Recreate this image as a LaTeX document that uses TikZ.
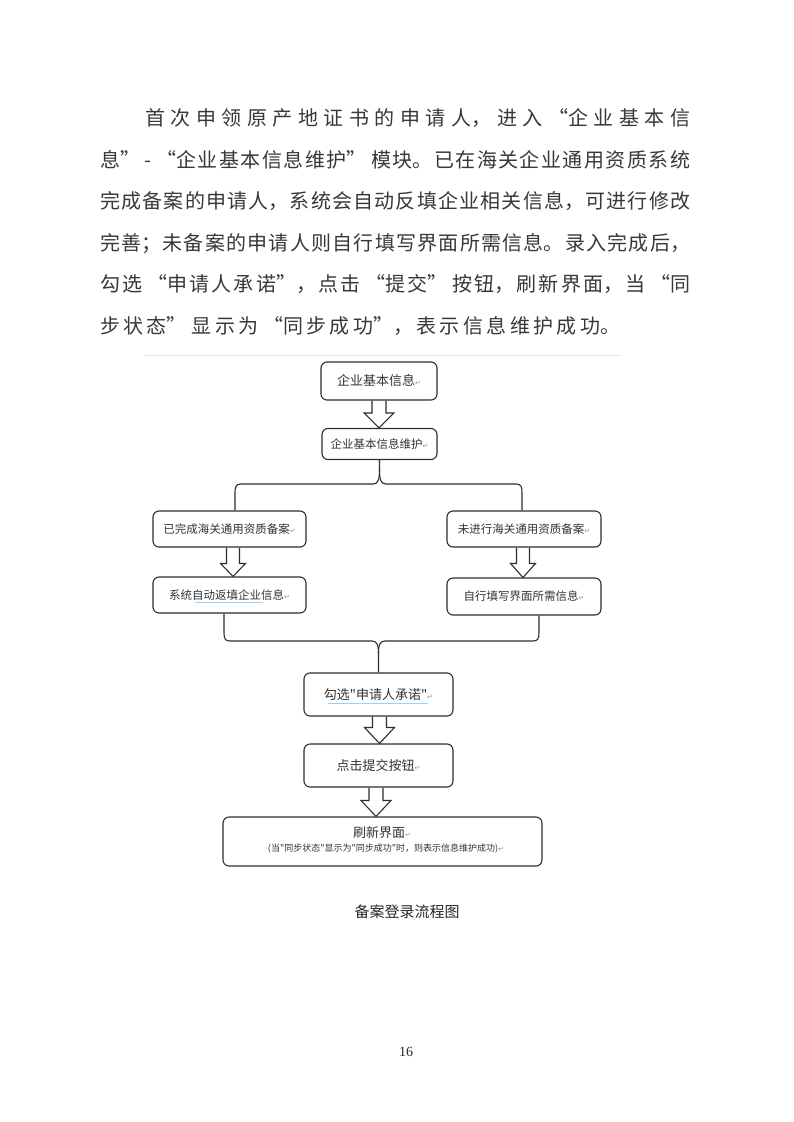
\documentclass[tikz,border=0pt]{standalone}
\usepackage{fontspec}
\setmainfont{Liberation Serif}
\newfontfamily\cjk{Noto Sans CJK SC}
\newfontfamily\dejavu{DejaVu Sans}
\usetikzlibrary{calc}
\newcommand\parmark{{\dejavu\fontsize{7}{7}\selectfont\textcolor{black!40}{↵}}}
\newcommand\bodyline[4]{% x, y(center), width, text
  \node[anchor=base west, inner sep=0pt, text=black!78] at (#1,#2+7.5) {\parbox[b]{#3pt}{\cjk\fontsize{20}{20}\selectfont
    \XeTeXlinebreaklocale "zh"\XeTeXlinebreakskip=0pt plus 30pt\parfillskip=0pt\noindent #4}};}
\newcommand\blockarrow[6]{% from, to, dx, shaft half, head half, head length
  \draw[arrowshape] let \p1=([xshift=#3]#1.south), \p2=([xshift=#3]#2.north) in
    (\x1-#4,\y1) -- (\x1-#4,\y2+#6) -- (\x1-#5,\y2+#6) -- (\x1,\y2) -- (\x1+#5,\y2+#6) -- (\x1+#4,\y2+#6) -- (\x1+#4,\y1);}
\begin{document}
\begin{tikzpicture}[x=1pt,y=-1pt,
  flowbox/.style={draw=black!82, line width=1.1pt, rounded corners=6pt, inner sep=0pt, align=center,
    font=\cjk\fontsize{11.5}{13}\selectfont, text=black!80},
  bigtext/.style={font=\cjk\fontsize{13}{15}\selectfont},
  arrowshape/.style={draw=black!82, line width=1.1pt, line join=miter},
  bracel/.style={draw=black!82, line width=1.1pt},
  spell/.style={draw=blue!45!cyan!40, line width=0.8pt}]
\useasboundingbox (0,0) rectangle (793,1122);
\fill[white] (0,0) rectangle (793,1122);

% body paragraph
\bodyline{145}{118}{545}{首次申领原产地证书的申请人，进入“企业基本信}
\bodyline{100}{159.6}{590}{息” - “企业基本信息维护” 模块。已在海关企业通用资质系统}
\bodyline{100}{201.2}{590}{完成备案的申请人，系统会自动反填企业相关信息，可进行修改}
\bodyline{100}{242.8}{590}{完善；未备案的申请人则自行填写界面所需信息。录入完成后，}
\bodyline{100}{284.4}{590}{勾选 “申请人承诺”，点击 “提交” 按钮，刷新界面，当 “同}
\bodyline{100}{326}{520}{步状态” 显示为 “同步成功”，表示信息维护成功。}

% faint rule at top of figure
\draw[black!10, line width=1pt] (145,355) -- (620,355);

% boxes
\node[flowbox, bigtext, minimum width=116pt, minimum height=38pt] (b1) at (379,381) {企业基本信息\parmark};
\node[flowbox, minimum width=115pt, minimum height=31pt] (b2) at (379.5,444) {企业基本信息维护\parmark};
\node[flowbox, minimum width=153pt, minimum height=36pt] (L1) at (229.5,529) {已完成海关通用资质备案\parmark};
\node[flowbox, minimum width=154pt, minimum height=36pt] (R1) at (524,529) {未进行海关通用资质备案\parmark};
\node[flowbox, minimum width=153pt, minimum height=36pt] (L2) at (229.5,595) {系统自动返填企业信息\parmark};
\node[flowbox, minimum width=154pt, minimum height=37pt] (R2) at (524,596.5) {自行填写界面所需信息\parmark};
\node[flowbox, bigtext, minimum width=149pt, minimum height=43pt] (C1) at (378.5,694.5) {勾选"申请人承诺"\parmark};
\node[flowbox, bigtext, minimum width=149pt, minimum height=43pt] (C2) at (378.5,765.5) {点击提交按钮\parmark};
\node[flowbox, minimum width=319pt, minimum height=49pt] (C3) at (382.5,841.5) {};
\node[inner sep=0pt, font=\cjk\fontsize{13}{15}\selectfont, text=black!80] (C3a) at (382,833) {刷新界面\parmark};
\node[inner sep=0pt, font=\cjk\fontsize{9}{11}\selectfont, text=black!80] (C3b) at (386,849) {(当"同步状态"显示为"同步成功"时，则表示信息维护成功)\parmark};

% spell-check underlines
\draw[spell] (195,602.5) -- (263,602.5);
\draw[spell] (328,703.5) -- (428,703.5);

% block arrows
\blockarrow{b1}{b2}{0pt}{7pt}{15pt}{15pt}
\blockarrow{L1}{L2}{3.5pt}{6.5pt}{12.5pt}{13pt}
\blockarrow{R1}{R2}{-1pt}{6.5pt}{12.5pt}{14pt}
\blockarrow{C1}{C2}{1pt}{7pt}{15pt}{16pt}
\blockarrow{C2}{C3}{-2.5pt}{7pt}{15pt}{16pt}

% top brace
\coordinate (tt) at (379.5,469);
\draw[bracel] (b2.south) -- (tt)
  .. controls (379.5,480) and (378,484) .. (373,484) -- (241,484)
  .. controls (236.5,484) and (235,486) .. (235,492) -- ([xshift=5.5pt]L1.north);
\draw[bracel] (tt)
  .. controls (379.5,480) and (381,484) .. (386,484) -- (516,484)
  .. controls (520.5,484) and (522,486) .. (522,492) -- ([xshift=-2pt]R1.north);

% bottom brace
\coordinate (bt) at (378.5,653);
\draw[bracel] ([xshift=-5.5pt]L2.south) -- (224,633)
  .. controls (224,639) and (225.5,641) .. (230,641) -- (372,641)
  .. controls (377,641) and (378.5,645) .. (bt) -- (C1.north);
\draw[bracel] ([xshift=15pt]R2.south) -- (539,633)
  .. controls (539,639) and (537.5,641) .. (533,641) -- (385,641)
  .. controls (380,641) and (378.5,645) .. (bt);

% caption and page number
\node[inner sep=0pt, font=\cjk\fontsize{15}{17}\selectfont, text=black!85] (cap) at (407,912) {备案登录流程图};
\node[inner sep=0pt, font=\fontsize{14}{16}\selectfont, text=black!85] (pg) at (406,1052) {16};
\end{tikzpicture}
\end{document}
